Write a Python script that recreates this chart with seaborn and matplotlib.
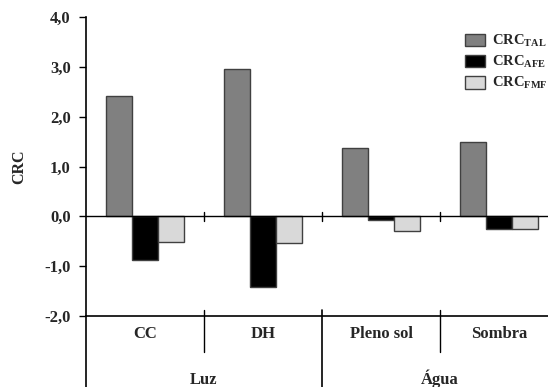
import pandas as pd
import seaborn as sns
import matplotlib.pyplot as plt
from matplotlib.patches import Patch

# values
categories = ["CC", "DH", "Pleno sol", "Sombra"]
groups = ["Luz", "Água"]
series = ["TAL", "AFE", "FMF"]
crc_tal = [2.42, 2.96, 1.37, 1.49]
crc_afe = [-0.88, -1.42, -0.07, -0.25]
crc_fmf = [-0.52, -0.54, -0.29, -0.25]
yticks = [-2.0, -1.0, 0.0, 1.0, 2.0, 3.0, 4.0]
colors = ["#808080", "#000000", "#d9d9d9"]

df = pd.DataFrame({
    "categoria": categories * 3,
    "serie": sum([[s] * 4 for s in series], []),
    "crc": crc_tal + crc_afe + crc_fmf,
})

sns.set_style("white")
plt.rcParams["font.family"] = ["Liberation Serif", "DejaVu Serif"]
plt.rcParams["font.weight"] = "bold"
plt.rcParams["mathtext.fontset"] = "custom"
plt.rcParams["mathtext.bf"] = "Liberation Serif:bold"
plt.rcParams["mathtext.rm"] = "Liberation Serif:bold"

fig = plt.figure(figsize=(5.48, 3.87), dpi=100)
ax = fig.add_axes([86 / 548, 71 / 387, 472 / 548, 299 / 387])

sns.barplot(data=df, x="categoria", y="crc", hue="serie", order=categories,
            hue_order=series, palette=colors, width=0.66, gap=0,
            edgecolor="#404040", linewidth=1.0, legend=False, ax=ax)

ax.set_xlim(-0.5, 3.5)
ax.set_ylim(-2.0, 4.0)
ax.set_yticks(yticks)
ax.set_yticklabels([f"{v:.1f}".replace(".", ",") for v in yticks],
                   fontsize=12, fontweight="bold")
ax.tick_params(axis="y", direction="out", length=5, width=1, color="black",
               left=True, pad=6)
ax.set_xticks([])
ax.set_xlabel("")
ax.set_ylabel("CRC", fontsize=11.5, fontweight="bold", labelpad=12)

for side in ["top", "right"]:
    ax.spines[side].set_visible(False)
for side in ["left", "bottom"]:
    ax.spines[side].set_color("black")
    ax.spines[side].set_linewidth(1.2)

# zero axis with tick marks between categories
ax.axhline(0, color="black", lw=1.0, zorder=3)
tr = ax.get_xaxis_transform()
zero_frac = 2.0 / 6.0
for xb in [0.5, 1.5, 2.5]:
    ax.plot([xb, xb], [zero_frac - 0.015, zero_frac + 0.015], color="black",
            lw=1.0, transform=tr, clip_on=False)

# multi-level category axis below the plot
for xb in [0.5, 2.5]:
    ax.plot([xb, xb], [0.02, -0.12], color="black", lw=1.0, transform=tr,
            clip_on=False)
for xb in [-0.5, 1.5]:
    ax.plot([xb, xb], [0.02 if xb > 0 else 0, -0.25], color="black", lw=1.2,
            transform=tr, clip_on=False)
for i, cat in enumerate(categories):
    ax.text(i, -0.074, cat, transform=tr, ha="center", va="baseline",
            fontsize=12, fontweight="bold")
for i, grp in enumerate(groups):
    ax.text(0.5 + 2 * i, -0.227, grp, transform=tr, ha="center", va="baseline",
            fontsize=12, fontweight="bold")

handles = [Patch(facecolor=c, edgecolor="#404040", lw=1.0) for c in colors]
labels = [r"$\mathbf{CRC_{%s}}$" % s for s in series]
fig.legend(handles, labels, loc="upper left", bbox_to_anchor=(459 / 548, 1 - 27 / 387),
           frameon=False, fontsize=10.5, handlelength=1.4, handleheight=0.95,
           labelspacing=0.35, handletextpad=0.45, borderaxespad=0)

fig.savefig("out.png", dpi=100)
